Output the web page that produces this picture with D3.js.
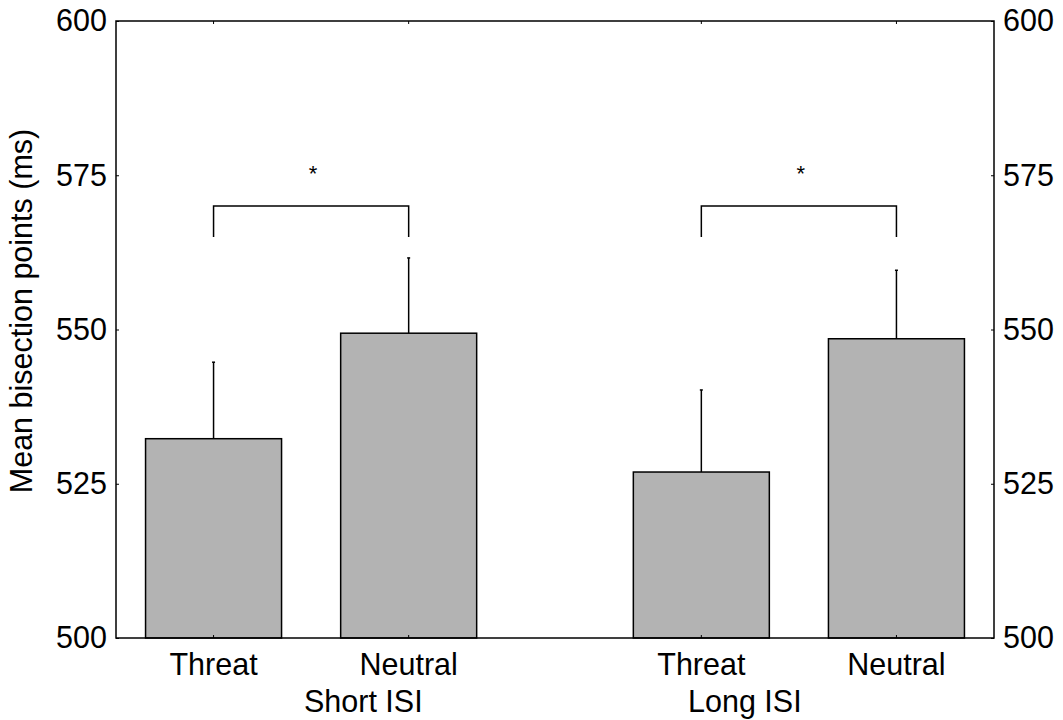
<!DOCTYPE html>
<html><head><meta charset="utf-8">
<script src="https://cdn.jsdelivr.net/npm/d3@7"></script>
<style>body{margin:0;background:#fff;} text{font-family:"Liberation Sans",Arial,Helvetica,sans-serif;}</style>
</head><body>
<svg id="c" width="1063" height="720"></svg>
<script>
const groups = ["Short ISI", "Long ISI"];
const conditions = ["Threat", "Neutral", "Threat", "Neutral"];
const barGroup = ["Short ISI", "Short ISI", "Long ISI", "Long ISI"];
const means = [532.3, 549.4, 526.9, 548.5];
const errors = [12.4, 12.2, 13.3, 11.1];
const yTicks = [500, 525, 550, 575, 600];
const brackets = [{from: 0, to: 1, y: 570, drop: 5, label: "*"}, {from: 2, to: 3, y: 570, drop: 5, label: "*"}];

const svg = d3.select("#c");
const L = 116, R = 994, T = 21, B = 638;
const y = d3.scaleLinear().domain([500, 600]).range([B, T]);
const slots = [0, 1, 2.5, 3.5];
const x = d3.scaleLinear().domain([-0.5, 4]).range([L, R]);
const bw = 136;
const fs = 30.5;

const g = svg.append("g");
means.forEach((m, i) => {
  const cx = x(slots[i]);
  g.append("rect").attr("x", cx - bw/2).attr("y", y(m)).attr("width", bw).attr("height", y(500) - y(m))
    .attr("fill", "#b3b3b3").attr("stroke", "#000").attr("stroke-width", 1.5);
  g.append("line").attr("x1", cx).attr("x2", cx).attr("y1", y(m)).attr("y2", y(m + errors[i]))
    .attr("stroke", "#000").attr("stroke-width", 1.5);
  g.append("line").attr("x1", cx - 1.5).attr("x2", cx + 1.5).attr("y1", y(m + errors[i])).attr("y2", y(m + errors[i]))
    .attr("stroke", "#000").attr("stroke-width", 1.5);
});

brackets.forEach(b => {
  const x1 = x(slots[b.from]), x2 = x(slots[b.to]);
  g.append("path").attr("d", `M${x1},${y(b.y - b.drop)}V${y(b.y)}H${x2}V${y(b.y - b.drop)}`)
    .attr("fill", "none").attr("stroke", "#000").attr("stroke-width", 1.5);
  g.append("text").attr("x", (x1 + x2)/2 + 2).attr("y", y(b.y) - 25).attr("text-anchor", "middle")
    .attr("font-size", 22).text(b.label);
});

svg.append("rect").attr("x", L).attr("y", T).attr("width", R - L).attr("height", B - T)
  .attr("fill", "none").attr("stroke", "#000").attr("stroke-width", 1.5);

const la = svg.append("g").attr("transform", `translate(${L},0)`)
  .call(d3.axisLeft(y).tickValues(yTicks).tickSize(-3).tickPadding(9));
const ra = svg.append("g").attr("transform", `translate(${R},0)`)
  .call(d3.axisRight(y).tickValues(yTicks).tickSize(-3).tickPadding(9));
[la, ra].forEach(a => {
  a.select(".domain").remove();
  a.selectAll("text").attr("font-size", fs).attr("fill", "#000").style("font-family", "Liberation Sans, Arial, sans-serif");
  a.selectAll("line").attr("stroke", "#000");
});

slots.forEach(s => {
  svg.append("line").attr("x1", x(s)).attr("x2", x(s)).attr("y1", B).attr("y2", B - 3).attr("stroke", "#000");
  svg.append("line").attr("x1", x(s)).attr("x2", x(s)).attr("y1", T).attr("y2", T + 3).attr("stroke", "#000");
});

conditions.forEach((c, i) => {
  svg.append("text").attr("x", x(slots[i])).attr("y", 675).attr("text-anchor", "middle")
    .attr("font-size", fs).attr("fill", "#000").text(c);
});
const groupLeft = {"Short ISI": 304, "Long ISI": 688};
groups.forEach(gname => {
  svg.append("text").attr("x", groupLeft[gname]).attr("y", 712).attr("text-anchor", "start")
    .attr("font-size", fs).attr("fill", "#000").text(gname);
});

svg.append("text").attr("transform", `translate(32,311) rotate(-90)`).attr("text-anchor", "middle")
  .attr("font-size", fs).attr("fill", "#000").text("Mean bisection points (ms)");
</script>
</body></html>
